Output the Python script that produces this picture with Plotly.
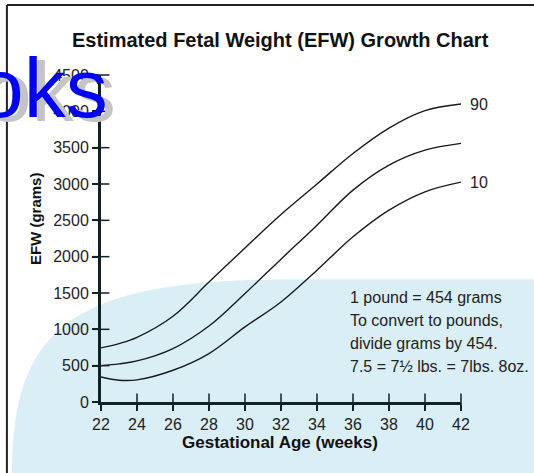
import plotly.graph_objects as go

# ---------------- data ----------------
weeks = [22, 23, 24, 26, 28, 30, 32, 34, 36, 38, 40, 42]
p90 = [744, 804, 890, 1180, 1650, 2120, 2580, 3000, 3420, 3770, 4010, 4100]
p50 = [500, 524, 565, 735, 1045, 1493, 1965, 2434, 2916, 3260, 3466, 3559]
p10 = [344, 300, 305, 437, 667, 1033, 1377, 1814, 2273, 2640, 2893, 3026]
curve_labels = ["90", "", "10"]

x_ticks = [22, 24, 26, 28, 30, 32, 34, 36, 38, 40, 42]
y_ticks = [0, 500, 1000, 1500, 2000, 2500, 3000, 3500, 4000, 4500]

title_text = "Estimated Fetal Weight (EFW) Growth Chart"
x_title = "Gestational Age (weeks)"
y_title = "EFW (grams)"
note_lines = ["1 pound = 454 grams", "To convert to pounds,",
              "divide grams by 454.", "7.5 = 7½ lbs. = 7lbs. 8oz."]
watermark = "oks"

# ---------------- layout geometry (pixels) ----------------
W, H = 534, 473
L, R, T, B = 101, 460.7, 75, 401.7


def px(x):
    return (x - L) / (R - L)


def py(y):
    return (B - y) / (B - T)


FONT = "Liberation Sans, Arial, sans-serif"
AX = "#102226"
INK = "#1a1a1a"

fig = go.Figure()

for vals, lab in zip([p90, p50, p10], curve_labels):
    fig.add_trace(go.Scatter(x=weeks, y=vals, mode="lines",
                             line=dict(color=INK, width=1.4, shape="spline", smoothing=1),
                             hoverinfo="skip", showlegend=False))
    if lab:
        fig.add_annotation(x=weeks[-1], y=vals[-1], text=lab, showarrow=False,
                           xanchor="left", yanchor="middle", xshift=7,
                           font=dict(family=FONT, size=16, color="#222"))

# cross ticks (inside halves)
fig.add_trace(go.Scatter(x=x_ticks[1:], y=[0] * (len(x_ticks) - 1), mode="markers",
                         marker=dict(symbol="line-ns", size=12, line=dict(color=AX, width=1.5)),
                         cliponaxis=False, hoverinfo="skip", showlegend=False))
fig.add_trace(go.Scatter(x=[22] * (len(y_ticks) - 1), y=y_ticks[1:], mode="markers",
                         marker=dict(symbol="line-ew", size=12, line=dict(color=AX, width=1.5)),
                         cliponaxis=False, hoverinfo="skip", showlegend=False))

# background blue region
path = (f"M {px(12)},{py(473)} C {px(12)},{py(320)} {px(80)},{py(279)} {px(300)},{py(279)} "
        f"L {px(534)},{py(279)} L {px(534)},{py(473)} Z")
fig.add_shape(type="path", path=path, xref="paper", yref="paper",
              fillcolor="#d9eff5", line=dict(width=0), layer="below")

# border lines
fig.add_shape(type="line", xref="paper", yref="paper", x0=px(7), x1=px(534), y0=py(5), y1=py(5),
              line=dict(color="#222", width=2))
fig.add_shape(type="line", xref="paper", yref="paper", x0=px(7), x1=px(7), y0=py(5), y1=py(473),
              line=dict(color="#222", width=2))

# watermark
fig.add_annotation(xref="paper", yref="paper", x=px(110), y=py(88), text=watermark,
                   showarrow=False, xanchor="right", yanchor="middle", xshift=8, yshift=-4,
                   font=dict(family=FONT, size=84, color="#c4c4c4"))
fig.add_annotation(xref="paper", yref="paper", x=px(110), y=py(88), text=watermark,
                   showarrow=False, xanchor="right", yanchor="middle",
                   font=dict(family=FONT, size=84, color="#0000ff"))

# titles
fig.add_annotation(xref="paper", yref="paper", x=px(280), y=py(40), text=title_text,
                   showarrow=False, xanchor="center", yanchor="middle",
                   font=dict(family=FONT, size=20, color="#111", weight=700))
fig.add_annotation(xref="paper", yref="paper", x=px(280), y=py(442), text=x_title,
                   showarrow=False, xanchor="center", yanchor="middle",
                   font=dict(family=FONT, size=17, color="#111", weight=700))
fig.add_annotation(xref="paper", yref="paper", x=px(35), y=py(218), text=y_title,
                   showarrow=False, xanchor="center", yanchor="middle", textangle=-90,
                   font=dict(family=FONT, size=15, color="#111", weight=700))

# note
for i, line in enumerate(note_lines):
    fig.add_annotation(xref="paper", yref="paper", x=px(348), y=py(297 + 23 * i), text=line,
                       showarrow=False, xanchor="left", yanchor="middle",
                       font=dict(family=FONT, size=16, color="#222"))

fig.update_layout(
    width=W, height=H,
    margin=dict(l=L, r=W - R, t=T, b=H - B, pad=0),
    paper_bgcolor="white", plot_bgcolor="rgba(0,0,0,0)",
    xaxis=dict(range=[22, 42], tickvals=x_ticks, showgrid=False, zeroline=False,
               showline=True, linewidth=3, linecolor=AX,
               ticks="outside", ticklen=6, tickwidth=1.5, tickcolor=AX,
               tickfont=dict(family=FONT, size=16, color="#222")),
    yaxis=dict(range=[0, 4500], tickvals=y_ticks, showgrid=False, zeroline=False,
               showline=True, linewidth=3, linecolor=AX,
               ticks="outside", ticklen=6, tickwidth=1.5, tickcolor=AX,
               tickfont=dict(family=FONT, size=16, color="#222")),
    showlegend=False,
)

fig.write_html("out.html", config={"displayModeBar": False},
               post_script="document.body.style.margin='0';document.body.style.overflow='hidden';")
